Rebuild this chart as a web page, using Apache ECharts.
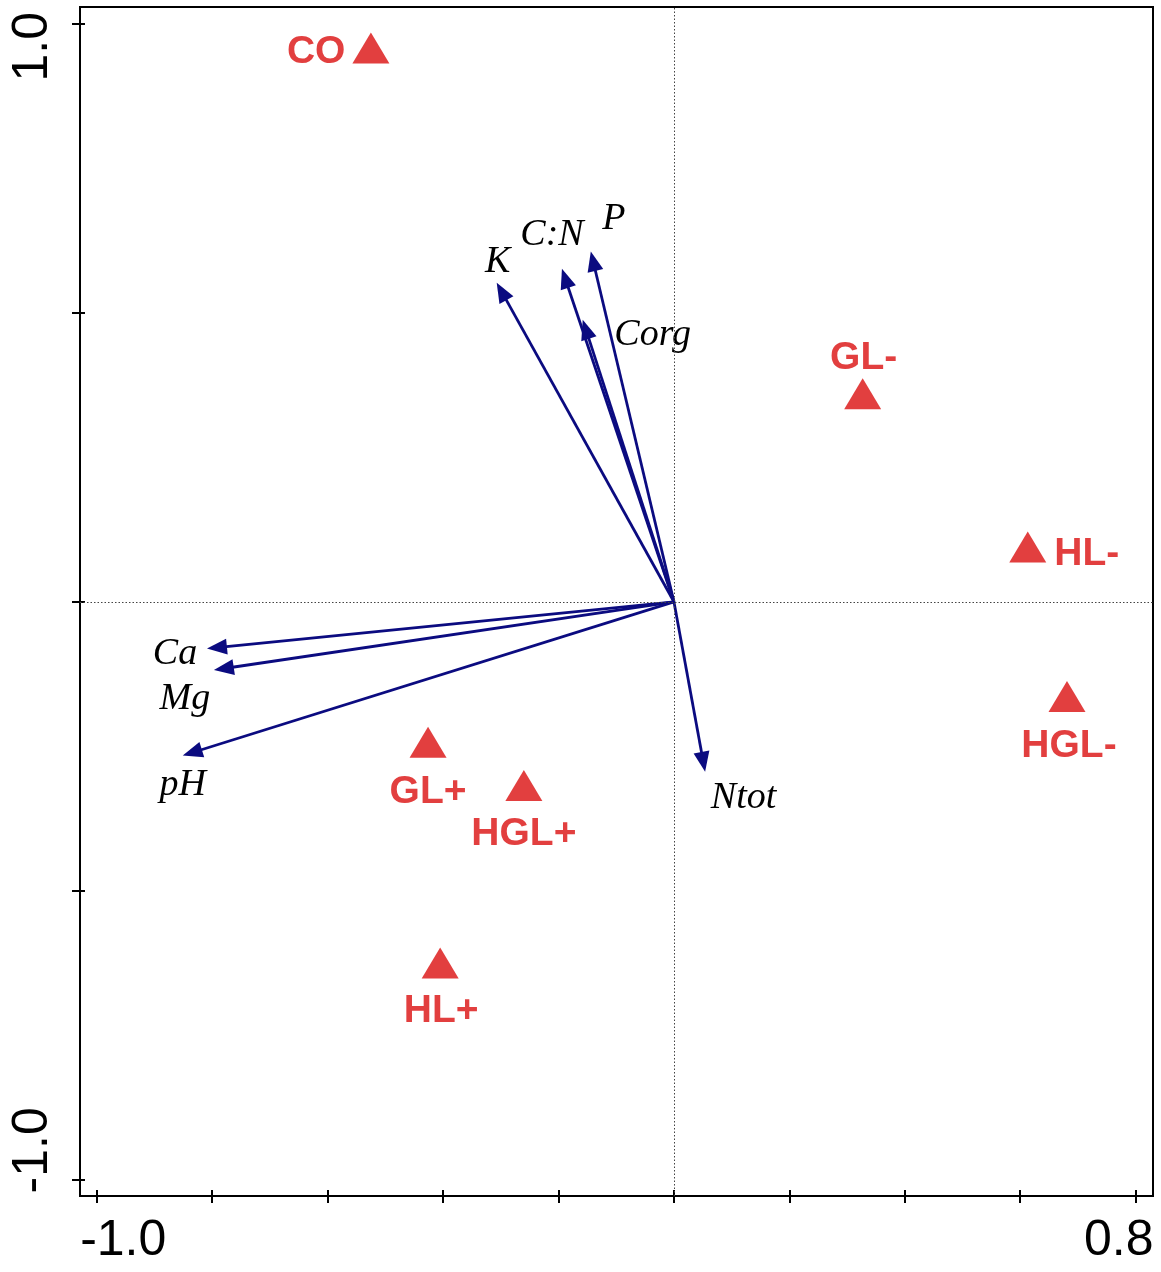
<!DOCTYPE html>
<html><head><meta charset="utf-8">
<script src="https://cdn.jsdelivr.net/npm/echarts@6/dist/echarts.min.js"></script>
<style>html,body{margin:0;padding:0;background:#fff}#c{width:1161px;height:1272px}</style>
</head><body><div id="c"></div>
<script>
// ---- data ----
const siteNames = ['CO', 'GL-', 'HL-', 'HGL-', 'GL+', 'HGL+', 'HL+'];
const siteX = [-0.525, 0.327, 0.613, 0.681, -0.426, -0.260, -0.405];
const siteY = [0.958, 0.360, 0.095, -0.164, -0.243, -0.318, -0.625];

const varNames = ['K', 'C:N', 'P', 'Corg', 'Ca', 'Mg', 'pH', 'Ntot'];
const varX = [-0.307, -0.194, -0.144, -0.158, -0.809, -0.797, -0.851, 0.054];
const varY = [0.552, 0.576, 0.606, 0.488, -0.081, -0.118, -0.266, -0.294];

const xTicks = [-1.0, -0.8, -0.6, -0.4, -0.2, 0, 0.2, 0.4, 0.6, 0.8];
const yTicks = [-1.0, -0.5, 0, 0.5, 1.0];
const xLabelValues = [-1.0, 0.8];
const xTickLabels = ['-1.0', '0.8'];
const yLabelValues = [-1.0, 1.0];
const yTickLabels = ['-1.0', '1.0'];

// ---- styles ----
const RED = '#E23F3F';
const NAVY = '#0B0B80';
const SANS = '"Liberation Sans", Arial, sans-serif';
const SERIF = '"Liberation Serif", "Times New Roman", serif';

const siteLabelStyle = {
  'CO':   {position: 'left', distance: 7, offset: [0, 4]},
  'GL-':  {position: 'top', distance: 4, offset: [1, 4]},
  'HL-':  {position: 'right', distance: 8, offset: [0, 7]},
  'HGL-': {position: 'bottom', distance: 11, offset: [2, 4]},
  'GL+':  {position: 'bottom', distance: 12, offset: [0, 3]},
  'HGL+': {position: 'bottom', distance: 11, offset: [0, 3]},
  'HL+':  {position: 'bottom', distance: 10, offset: [1, 3]}
};
const varLabelOffset = {
  'K': [1, -20.5], 'C:N': [-10, -33.5], 'P': [23, -32.5], 'Corg': [70, 15.5],
  'Ca': [-32, 5.5], 'Mg': [-29, 29], 'pH': [0, 29], 'Ntot': [38.5, 26.5]
};

const X_MIN = -1.029, X_MAX = 0.830, Y_MIN = -1.028, Y_MAX = 1.029;

const labelFont = {fontFamily: SANS, fontSize: 50, color: '#000'};

function xLabelFmt(v) {
  const i = xLabelValues.findIndex(t => Math.abs(t - v) < 1e-9);
  if (i < 0) return '';
  return i === 0 ? '{spL| }{t|' + xTickLabels[i] + '}' : '{t|' + xTickLabels[i] + '}{spR| }';
}
function yLabelFmt(v) {
  const i = yLabelValues.findIndex(t => Math.abs(t - v) < 1e-9);
  if (i < 0) return '';
  return i === 0 ? '{spB| }{t|' + yTickLabels[i] + '}' : '{t|' + yTickLabels[i] + '}{spT| }';
}

const chart = echarts.init(document.getElementById('c'), null, {renderer: 'canvas'});

const option = {
  animation: false,
  backgroundColor: '#fff',
  grid: {left: 80, top: 7, width: 1073, height: 1189, show: true, borderColor: '#000', borderWidth: 2,
    backgroundColor: 'transparent', containLabel: false, outerBoundsMode: 'none'},
  xAxis: [{
    type: 'value', min: X_MIN, max: X_MAX, position: 'bottom',
    axisLine: {show: false, onZero: false}, splitLine: {show: false},
    axisTick: {show: true, customValues: xTicks, length: 7, inside: false, lineStyle: {color: '#000', width: 2}},
    axisLabel: {show: true, customValues: xLabelValues, margin: 20, formatter: xLabelFmt,
      rich: {t: labelFont, spL: {width: 53, fontSize: 50}, spR: {width: 34, fontSize: 50}}}
  }, {
    type: 'value', min: X_MIN, max: X_MAX, position: 'bottom',
    axisLine: {show: false, onZero: false}, splitLine: {show: false}, axisLabel: {show: false},
    axisTick: {show: true, customValues: xTicks, length: 6, inside: true, lineStyle: {color: '#000', width: 2}}
  }],
  yAxis: [{
    type: 'value', min: Y_MIN, max: Y_MAX, position: 'left',
    axisLine: {show: false, onZero: false}, splitLine: {show: false},
    axisTick: {show: true, customValues: yTicks, length: 8, inside: false, lineStyle: {color: '#000', width: 2}},
    axisLabel: {show: true, customValues: yLabelValues, rotate: 90, margin: 22, formatter: yLabelFmt,
      rich: {t: labelFont, spT: {width: 46, fontSize: 50}, spB: {width: 59, fontSize: 50}}}
  }, {
    type: 'value', min: Y_MIN, max: Y_MAX, position: 'left',
    axisLine: {show: false, onZero: false}, splitLine: {show: false}, axisLabel: {show: false},
    axisTick: {show: true, customValues: yTicks, length: 5, inside: true, lineStyle: {color: '#000', width: 2}}
  }],
  series: [
    {
      type: 'scatter', name: 'origin', data: [], z: 1, silent: true,
      markLine: {
        silent: true, symbol: 'none', animation: false,
        label: {show: false},
        lineStyle: {color: '#444', width: 1, type: [1.5, 2]},
        data: [{xAxis: 0}, {yAxis: 0}]
      }
    },
    {
      type: 'custom', name: 'variables', z: 3,
      data: varX.map((x, i) => [x, varY[i]]),
      renderItem: function (params, api) {
        const o = api.coord([0, 0]);
        const p = api.coord([api.value(0), api.value(1)]);
        const dx = p[0] - o[0], dy = p[1] - o[1];
        const L = Math.hypot(dx, dy);
        const ux = dx / L, uy = dy / L;
        const hl = 20, hw = 8;
        const bx = p[0] - ux * hl, by = p[1] - uy * hl;
        const name = varNames[params.dataIndex];
        const off = varLabelOffset[name];
        return {
          type: 'group',
          children: [
            {type: 'line', shape: {x1: o[0], y1: o[1], x2: bx + ux * 3, y2: by + uy * 3},
              style: {stroke: NAVY, lineWidth: 2.8}},
            {type: 'polygon', shape: {points: [[p[0], p[1]], [bx - uy * hw, by + ux * hw], [bx + uy * hw, by - ux * hw]]},
              style: {fill: NAVY}},
            {type: 'text', x: p[0] + off[0], y: p[1] + off[1],
              style: {text: name, fontFamily: SERIF, fontStyle: 'italic', fontSize: 38, fill: '#000',
                align: 'center', verticalAlign: 'middle'}}
          ]
        };
      }
    },
    {
      type: 'scatter', name: 'sites', z: 4,
      symbol: 'triangle', symbolSize: [37, 31],
      itemStyle: {color: RED, opacity: 1},
      data: siteNames.map((n, i) => ({
        name: n, value: [siteX[i], siteY[i]],
        label: {show: true, formatter: n, position: siteLabelStyle[n].position,
          distance: siteLabelStyle[n].distance, offset: siteLabelStyle[n].offset,
          fontFamily: SANS, fontWeight: 'bold', fontSize: 39, color: RED}
      }))
    }
  ]
};
chart.setOption(option);
</script>
</body></html>
